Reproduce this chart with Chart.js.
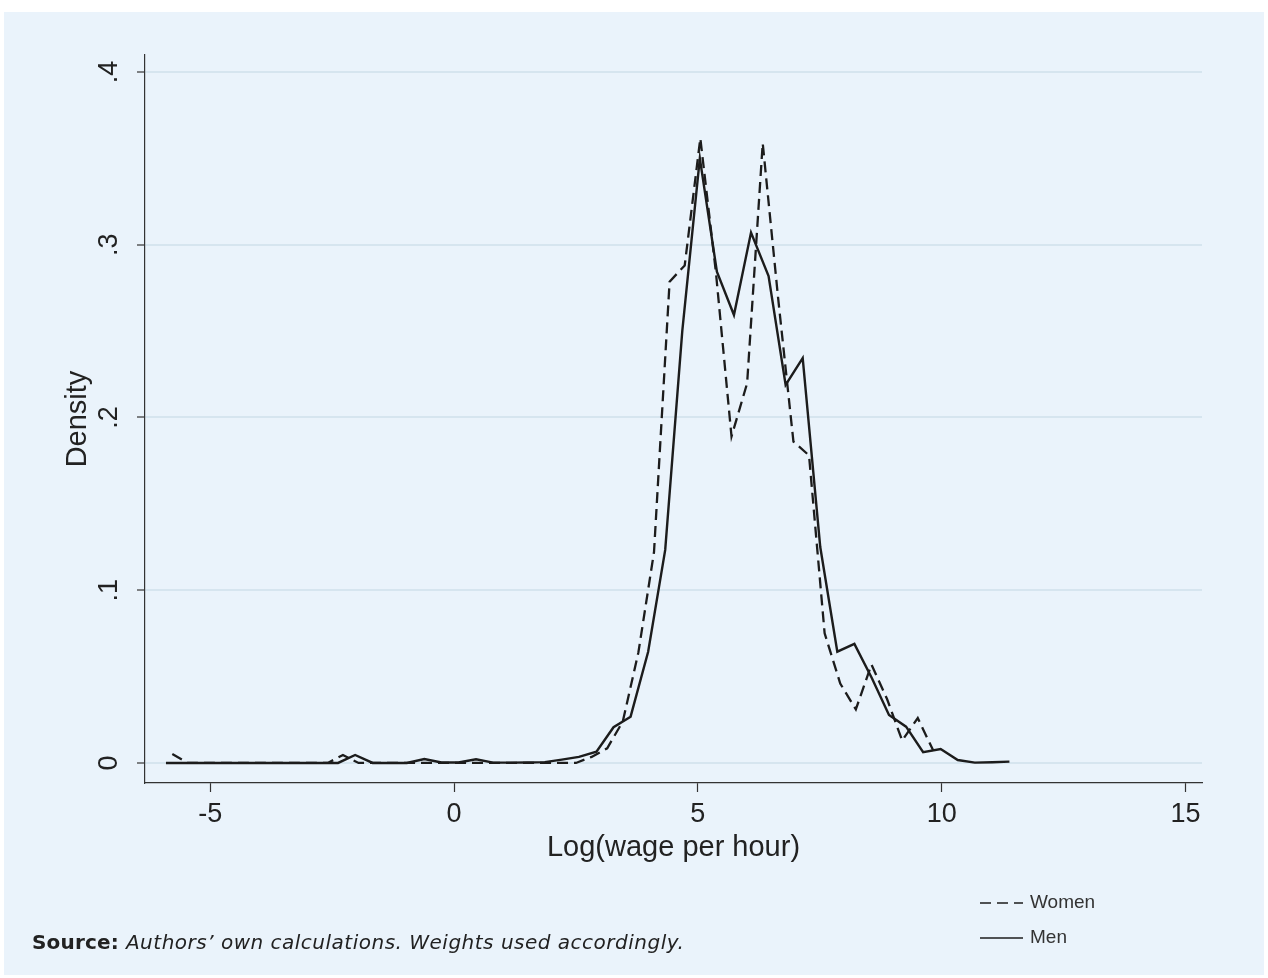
<!DOCTYPE html>
<html>
<head>
<meta charset="utf-8">
<script src="https://cdn.jsdelivr.net/npm/chart.js@4.4.1/dist/chart.umd.min.js"></script>
<style>
  html, body { margin: 0; padding: 0; background: #fff; }
  #panel { position: absolute; left: 4px; top: 12px; width: 1260px; height: 963px; background: #eaf3fb; }
  #wrap { position: absolute; left: 0; top: 0; width: 1268px; height: 978px; }
  #note { position: absolute; left: 32px; top: 930px; font-family: "DejaVu Sans", sans-serif; font-size: 20px; letter-spacing: 0.5px; color: #222; white-space: nowrap; }
  #note b { font-weight: 700; letter-spacing: 0.2px; }
</style>
</head>
<body>
<div id="panel"></div>
<div id="wrap"><canvas id="chartDensity" width="1268" height="978"></canvas></div>
<div id="note"><b>Source:</b> <i>Authors’ own calculations. Weights used accordingly.</i></div>
<script>
// titik kepadatan (kdensity 50 titik)
const womenX = [-5.78, -5.46, -5.14, -4.82, -4.51, -4.19, -3.87, -3.55, -3.23, -2.91,
  -2.59, -2.28, -1.96, -1.64, -1.32, -1.00, -0.68, -0.36, -0.05, 0.27,
  0.59, 0.91, 1.23, 1.55, 1.87, 2.19, 2.50, 2.82, 3.14, 3.46,
  3.78, 4.10, 4.42, 4.73, 5.05, 5.37, 5.69, 6.01, 6.33, 6.65,
  6.96, 7.28, 7.60, 7.92, 8.24, 8.56, 8.88, 9.19, 9.51, 9.83];
const womenDensity = [0.0052, 0, 0, 0, 0, 0, 0, 0, 0, 0,
  0, 0.0046, 0, 0, 0, 0, 0, 0, 0, 0,
  0, 0, 0, 0, 0, 0, 0, 0.0035, 0.0085, 0.024,
  0.064, 0.122, 0.2786, 0.288, 0.3616, 0.284, 0.189, 0.2198, 0.3587, 0.268,
  0.186, 0.178, 0.075, 0.046, 0.031, 0.057, 0.037, 0.013, 0.026, 0.007];

const menX = [-5.91, -5.56, -5.20, -4.85, -4.50, -4.15, -3.79, -3.44, -3.09, -2.73,
  -2.38, -2.03, -1.67, -1.32, -0.97, -0.61, -0.26, 0.09, 0.45, 0.80,
  1.15, 1.50, 1.86, 2.21, 2.56, 2.92, 3.27, 3.62, 3.98, 4.33,
  4.68, 5.04, 5.39, 5.74, 6.09, 6.45, 6.80, 7.15, 7.51, 7.86,
  8.21, 8.57, 8.92, 9.27, 9.62, 9.98, 10.33, 10.68, 11.04, 11.39];
const menDensity = [0, 0, 0, 0, 0, 0, 0, 0, 0, 0,
  0, 0.0046, 0, 0, 0, 0.0023, 0.0003, 0.0003, 0.0021, 0.0002,
  0.0002, 0.0003, 0.0005, 0.0019, 0.0035, 0.0065, 0.0207, 0.0268, 0.0644, 0.1233,
  0.25, 0.350, 0.2844, 0.2593, 0.307, 0.2819, 0.2188, 0.2343, 0.125, 0.0644,
  0.0689, 0.049, 0.0278, 0.021, 0.0062, 0.0081, 0.0017, 0.0002, 0.0004, 0.0008];

const xTicks = [-5, 0, 5, 10, 15];
const yTicks = [0, 0.1, 0.2, 0.3, 0.4];
const yTickLabels = ['0', '.1', '.2', '.3', '.4'];

const FONT = '"Liberation Sans", Arial, sans-serif';
const INK = '#1c1c1c';

const toPoints = (xs, ys) => xs.map((x, i) => ({ x: x, y: ys[i] }));

// legenda kecil di kanan bawah, ditumpuk vertikal
const legendBawah = {
  id: 'legendBawah',
  afterDraw(chart) {
    const ctx = chart.ctx;
    ctx.save();
    chart.data.datasets.forEach((ds, i) => {
      const y = 903 + i * 35;
      ctx.beginPath();
      ctx.setLineDash(ds.borderDash || []);
      ctx.lineWidth = 1.6;
      ctx.strokeStyle = INK;
      ctx.moveTo(980, y);
      ctx.lineTo(1023, y);
      ctx.stroke();
      ctx.setLineDash([]);
      ctx.fillStyle = '#333';
      ctx.font = '19px ' + FONT;
      ctx.textBaseline = 'middle';
      ctx.fillText(ds.label, 1030, y);
    });
    ctx.restore();
  }
};

new Chart(document.getElementById('chartDensity'), {
  type: 'line',
  data: {
    datasets: [{
      label: 'Women',
      data: toPoints(womenX, womenDensity),
      borderColor: INK,
      borderWidth: 2.3,
      borderDash: [11, 6],
      pointRadius: 0,
      tension: 0
    }, {
      label: 'Men',
      data: toPoints(menX, menDensity),
      borderColor: INK,
      borderWidth: 2.4,
      pointRadius: 0,
      tension: 0
    }]
  },
  options: {
    responsive: false,
    animation: false,
    layout: { padding: { left: 61, top: 55, right: 66, bottom: 113 } },
    plugins: {
      legend: { display: false },
      tooltip: { enabled: false }
    },
    scales: {
      x: {
        type: 'linear',
        min: -6.34,
        max: 15.34,
        afterBuildTicks: s => { s.ticks = xTicks.map(v => ({ value: v })); },
        afterFit: s => { s.height = 82; },
        grid: { drawOnChartArea: false, tickLength: 9, tickColor: '#333', tickWidth: 1.2 },
        border: { display: true, color: '#333', width: 1.2 },
        ticks: {
          color: '#222', font: { family: FONT, size: 27 }, padding: 6,
          maxRotation: 0, autoSkip: false, callback: v => String(v)
        },
        title: {
          display: true, text: 'Log(wage per hour)', color: '#222',
          font: { family: FONT, size: 29 }, padding: 0
        }
      },
      y: {
        type: 'linear',
        min: -0.0116,
        max: 0.4098,
        afterBuildTicks: s => { s.ticks = yTicks.map(v => ({ value: v })); },
        afterFit: s => { s.width = 84; },
        grid: { color: '#d6e5ef', lineWidth: 2, tickLength: 8, tickColor: '#333', tickWidth: 1.2 },
        border: { display: true, color: '#333', width: 1.2 },
        ticks: {
          color: '#222', font: { family: FONT, size: 27 }, padding: 16,
          minRotation: 90, maxRotation: 90, crossAlign: 'center',
          callback: (v, i) => yTickLabels[i]
        },
        title: {
          display: true, text: 'Density', color: '#222',
          font: { family: FONT, size: 29 }, padding: 0
        }
      }
    }
  },
  plugins: [legendBawah]
});
</script>
</body>
</html>
